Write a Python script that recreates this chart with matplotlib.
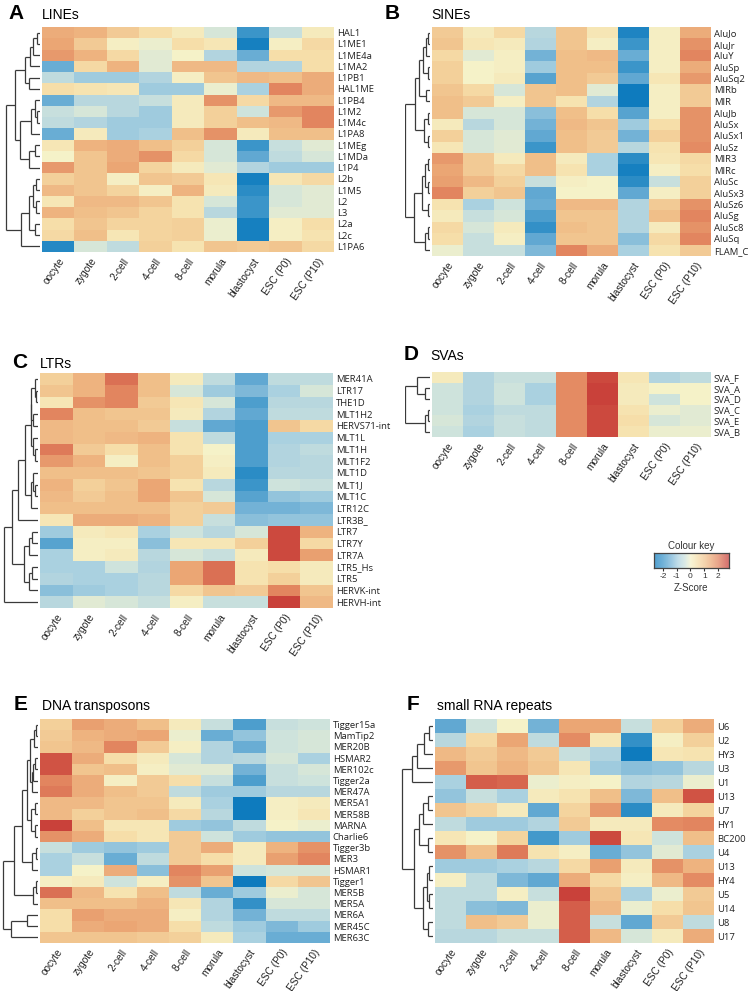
import numpy as np
import matplotlib
matplotlib.use("Agg")
from matplotlib import pyplot as plt
from matplotlib.colors import LinearSegmentedColormap

W, H = 754, 991

stages = ["oocyte", "zygote", "2-cell", "4-cell", "8-cell", "morula",
          "blastocyst", "ESC (P0)", "ESC (P10)"]

# ---- A: LINEs ----
lines_rows = ["HAL1", "L1ME1", "L1ME4a", "L1MA2", "L1PB1", "HAL1ME", "L1PB4", "L1M2",
              "L1M4c", "L1PA8", "L1MEg", "L1MDa", "L1P4", "L2b", "L1M5", "L2", "L3",
              "L2a", "L2c", "L1PA6"]
lines_z = [
    [1.4, 1.3, 0.9, 0.5, 0.2, -0.3, -2.0, -0.5, 0.2],
    [1.5, 0.9, 0.1, -0.1, 0.5, 0.3, -2.5, 0.1, 0.6],
    [1.7, 1.3, 0.6, -0.2, 0.0, -0.8, -1.5, 0.5, 0.5],
    [-1.5, 0.6, 1.3, -0.2, 1.2, 1.2, -0.8, -0.8, 0.5],
    [-0.6, -1.0, -1.0, -0.8, 0.1, 1.0, 1.2, 1.1, 1.4],
    [0.5, 0.4, 0.3, -1.0, -1.0, -0.1, -0.9, 2.0, 1.4],
    [-1.5, -0.7, -0.7, -0.5, 0.2, 1.8, 0.6, 1.2, 1.2],
    [-0.5, -0.3, -0.7, -1.0, 0.2, 0.8, -0.4, 1.7, 2.0],
    [-0.6, -0.8, -1.0, -1.0, 0.2, 0.8, 1.1, 1.2, 2.0],
    [-1.5, 0.2, -1.0, -0.9, 1.1, 1.8, 0.2, 1.1, 1.1],
    [0.3, 1.3, 1.4, 1.1, 0.8, -0.3, -2.0, -0.5, -0.2],
    [0.0, 1.0, 1.4, 1.8, 0.6, -0.3, -1.6, -0.6, -0.3],
    [1.7, 1.0, 1.5, 0.7, 0.2, -0.2, -0.8, -1.0, -1.0],
    [0.8, 1.0, 0.1, 1.0, 0.9, 0.3, -2.5, 0.3, 0.6],
    [1.2, 1.0, 0.7, 0.1, 1.3, 0.2, -2.2, -0.3, -0.2],
    [0.3, 1.2, 1.2, 1.0, 0.4, -0.3, -2.0, -0.3, -0.2],
    [1.3, 1.1, 1.0, 0.7, 0.4, -0.7, -2.0, -0.2, -0.2],
    [0.5, 1.0, 0.7, 0.7, 0.8, -0.1, -2.5, 0.1, 0.5],
    [0.6, 1.1, 0.3, 0.7, 0.8, -0.1, -2.5, 0.1, 0.4],
    [-2.3, -0.3, -0.6, 0.8, 0.4, 1.0, 0.9, 1.0, 0.6],
]
# tree nodes: [height, left, right], leaves are row indices
lines_tree = [1.0,
              [0.73,
               [0.44, [0.29, [0.20, [0.10, 0, 1], 2], 3], [0.31, 4, 5]],
               [0.59, [0.26, [0.15, 6, [0.08, 7, 8]], 9], [0.33, [0.15, 10, 11], 12]]],
              [0.56, [0.33, [0.20, [0.12, 13, 14], [0.12, 15, 16]], [0.14, 17, 18]], 19]]

# ---- B: SINEs ----
sines_rows = ["AluJo", "AluJr", "AluY", "AluSp", "AluSq2", "MIRb", "MIR", "AluJb", "AluSx",
              "AluSx1", "AluSz", "MIR3", "MIRc", "AluSc", "AluSx3", "AluSz6", "AluSg",
              "AluSc8", "AluSq", "FLAM_C"]
sines_z = [
    [0.9, 0.2, 0.6, -0.7, 1.0, 0.3, -2.4, 0.1, 1.4],
    [1.0, 0.3, 0.2, -0.8, 1.0, 0.1, -2.0, 0.1, 1.8],
    [0.6, -0.2, 0.1, -1.4, 1.1, 1.2, -1.5, 0.1, 2.0],
    [0.8, 0.0, 0.1, -1.0, 1.1, 1.1, -2.0, 0.1, 1.4],
    [0.8, 0.0, 0.2, -1.7, 1.1, 0.9, -1.6, 0.3, 1.7],
    [1.0, 0.6, -0.3, 1.0, 1.1, -0.2, -2.6, 0.1, 0.9],
    [1.1, 0.9, 0.1, 1.0, 0.4, -0.8, -2.6, 0.1, 0.9],
    [1.1, -0.3, -0.3, -1.2, 1.1, 0.5, -1.7, 0.1, 1.8],
    [0.2, -0.7, -0.3, -1.4, 1.2, 1.0, -1.0, 0.5, 1.8],
    [0.8, -0.3, -0.2, -1.6, 1.1, 0.9, -1.4, 0.8, 1.8],
    [0.3, -0.3, -0.2, -2.0, 1.1, 0.9, -0.7, 0.4, 1.9],
    [1.7, 0.9, 0.2, 1.1, 0.2, -0.9, -2.2, 0.3, 0.6],
    [1.5, 0.9, 0.6, 1.1, 0.4, -0.9, -2.5, 0.1, 0.5],
    [1.6, 1.2, 0.8, -0.5, 0.1, 0.0, -2.2, -0.5, 0.8],
    [2.0, 0.8, 1.0, -1.6, 0.0, 0.0, -1.6, 0.1, 0.8],
    [0.4, -0.9, -0.4, -1.5, 1.2, 1.2, -0.8, 0.9, 1.8],
    [0.2, -0.5, -0.3, -1.8, 1.0, 1.0, -0.8, 1.1, 2.0],
    [0.6, -0.3, 0.2, -2.1, 1.1, 1.0, -0.8, 0.2, 1.8],
    [0.5, -0.5, 0.1, -1.6, 1.0, 1.0, -1.2, 0.6, 2.0],
    [-0.1, -0.5, -0.5, -1.3, 2.0, 1.4, -0.9, 0.4, 0.9],
]
sines_tree = [1.0,
              [0.60,
               [0.45, [0.28, [0.18, [0.07, 0, 1], 2], [0.10, 3, 4]], [0.15, 5, 6]],
               [0.25, [0.10, 7, 8], [0.10, 9, 10]]],
              [0.67,
               [0.33, [0.19, [0.07, 11, 12], [0.07, 13, 14]], [0.10, 15, 16]],
               [0.22, [0.07, 17, 18], 19]]]

# ---- C: LTRs ----
ltrs_rows = ["MER41A", "LTR17", "THE1D", "MLT1H2", "HERVS71-int", "MLT1L", "MLT1H", "MLT1F2",
             "MLT1D", "MLT1J", "MLT1C", "LTR12C", "LTR3B_", "LTR7", "LTR7Y", "LTR7A",
             "LTR5_Hs", "LTR5", "HERVK-int", "HERVH-int"]
ltrs_z = [
    [0.8, 1.3, 2.2, 1.1, 0.2, -0.6, -1.6, -0.6, -0.6],
    [1.0, 1.3, 2.0, 1.1, -0.3, -1.0, -1.3, -0.9, -0.3],
    [0.3, 1.8, 2.0, 0.9, 0.3, -0.3, -1.8, -0.7, -0.7],
    [2.0, 1.1, 1.0, 1.0, 0.2, -0.8, -1.6, -0.6, -0.6],
    [1.2, 1.1, 1.1, 0.9, -0.5, -1.6, -1.8, 1.0, 0.6],
    [1.2, 1.1, 1.2, 1.3, 0.4, -0.6, -1.8, -0.9, -0.9],
    [2.1, 0.9, 0.5, 1.1, 0.4, 0.0, -1.8, -0.8, -0.6],
    [1.7, 1.3, 0.1, 1.1, 0.8, 0.1, -1.8, -0.8, -0.7],
    [1.1, 1.1, 1.1, 1.0, 0.8, 0.2, -2.2, -0.7, -0.7],
    [1.3, 0.8, 1.0, 1.5, 0.4, -0.7, -2.0, -0.4, -0.5],
    [1.2, 0.9, 1.1, 1.5, 1.0, -0.3, -1.7, -1.1, -1.0],
    [1.1, 1.1, 1.1, 1.1, 0.8, 0.9, -1.4, -1.4, -1.3],
    [0.3, 1.4, 1.4, 1.3, 0.8, -0.5, -1.2, -1.1, -1.1],
    [-1.0, 0.2, 0.3, -0.9, -0.4, -0.7, -0.3, 2.6, 1.3],
    [-1.7, 0.1, 0.1, -1.2, 0.3, 0.3, 0.8, 2.6, 0.6],
    [-0.9, 0.1, 0.2, -0.7, -0.3, -0.5, 0.2, 2.6, 1.6],
    [-0.9, -0.9, -0.4, -0.8, 1.5, 2.2, 0.4, 0.5, 0.2],
    [-0.8, -0.9, -0.9, -0.7, 1.5, 2.2, 0.4, 0.8, 0.2],
    [-1.2, -1.0, -0.9, -0.7, 0.6, 1.0, 0.9, 2.0, 1.0],
    [-0.7, -0.2, -0.3, -0.5, 0.1, -0.5, -0.5, 2.8, 1.2],
]
ltrs_tree = [1.0,
             [0.76,
              [0.58,
               [0.375,
                [0.21, [0.19, [0.10, 0, [0.06, 1, 2]], [0.14, 3, 4]], [0.14, 5, [0.08, 6, 7]]],
                [0.21, [0.14, 8, [0.08, 9, 10]], 11]],
               12],
              [0.40, [0.27, [0.17, 13, 14], 15], [0.27, [0.17, 16, 17], 18]]],
             19]

# ---- D: SVAs ----
svas_rows = ["SVA_F", "SVA_A", "SVA_D", "SVA_C", "SVA_E", "SVA_B"]
svas_z = [
    [0.2, -0.8, -0.5, -0.5, 1.9, 2.6, 0.3, -0.8, -0.6],
    [-0.4, -0.8, -0.4, -0.9, 1.9, 2.7, 0.2, 0.0, 0.0],
    [-0.4, -0.8, -0.4, -0.9, 1.9, 2.7, 0.2, -0.4, 0.0],
    [-0.4, -0.9, -0.6, -0.6, 1.9, 2.6, 0.4, -0.1, -0.2],
    [-0.3, -0.8, -0.5, -0.6, 1.9, 2.6, 0.5, -0.3, -0.2],
    [-0.4, -0.9, -0.5, -0.6, 1.9, 2.6, 0.4, -0.1, -0.1],
]
svas_tree = [1.0, [0.55, 0, [0.2, 1, 2]], [0.22, [0.1, 3, 4], 5]]

# ---- E: DNA transposons ----
dna_rows = ["Tigger15a", "MamTip2", "MER20B", "HSMAR2", "MER102c", "Tigger2a", "MER47A",
            "MER5A1", "MER58B", "MARNA", "Charlie6", "Tigger3b", "MER3", "HSMAR1",
            "Tigger1", "MER5B", "MER5A", "MER6A", "MER45C", "MER63C"]
dna_z = [
    [0.8, 1.6, 1.4, 1.1, 0.2, -0.5, -1.8, -0.5, -0.4],
    [0.9, 1.3, 1.4, 1.5, -0.1, -1.5, -1.1, -0.4, -0.3],
    [1.0, 1.2, 2.0, 0.9, 0.1, -0.8, -1.5, -0.4, -0.3],
    [2.5, 1.4, 0.5, 0.2, -0.3, -0.8, -0.7, -0.3, -0.9],
    [2.5, 1.0, 1.1, 0.1, -0.2, -0.2, -1.4, -0.5, -0.3],
    [2.0, 1.4, 0.1, 0.9, 0.5, -0.5, -1.8, -0.5, -0.4],
    [2.1, 1.4, 1.1, 0.9, -0.6, -1.0, -1.0, -0.7, -0.7],
    [1.2, 1.2, 1.0, 1.0, 0.2, -0.9, -2.6, 0.1, 0.2],
    [1.2, 0.8, 1.0, 1.1, 0.6, -0.7, -2.6, 0.1, 0.3],
    [2.7, 1.1, 0.3, 0.3, -1.0, -1.1, -0.6, 0.0, -0.1],
    [1.8, 1.4, 0.5, 0.3, 0.9, -0.4, -1.0, -1.1, -1.1],
    [-0.5, -1.0, -1.1, -1.0, 0.9, 1.4, 0.2, 1.3, 1.8],
    [-0.9, -0.5, -1.5, -0.6, 0.9, 0.5, 0.2, 1.6, 2.0],
    [-0.9, 0.0, 1.4, -1.2, 2.0, 1.6, -0.4, -0.3, -0.3],
    [0.1, 0.2, -0.4, 0.1, 1.8, 1.0, -2.6, 0.6, 1.0],
    [2.2, 1.2, 0.4, 1.1, -0.6, -1.5, -1.0, -0.1, -0.3],
    [1.1, 1.1, 1.1, 1.3, 0.3, -0.8, -2.1, -0.3, -0.3],
    [0.5, 1.6, 1.4, 1.4, 0.1, -0.8, -1.4, -0.6, -0.6],
    [0.5, 1.4, 1.5, 1.4, 0.5, -0.6, -1.0, -1.3, -1.0],
    [1.0, 1.0, 1.0, 0.9, 0.8, 0.2, -0.9, -1.5, -1.5],
]
dna_tree = [1.0,
            [0.69,
             [0.46,
              [0.31,
               [0.24, [0.10, [0.05, 0, 1], 2], [0.18, [0.13, [0.08, 3, 4], 5], 6]],
               [0.19, [0.08, 7, 8], [0.08, 9, 10]]],
              [0.18, [0.07, 11, 12], 13]],
             [0.15, [0.07, 14, 15], 16]],
            [0.77, [0.31, 17, 18], 19]]

# ---- F: small RNA repeats ----
srna_rows = ["U6", "U2", "HY3", "U3", "U1", "U13", "U7", "HY1", "BC200", "U4", "U13",
             "HY4", "U5", "U14", "U8", "U17"]
srna_z = [
    [-1.6, -0.4, 0.0, -1.4, 1.5, 1.5, -0.5, 0.8, 1.4],
    [-0.7, 0.6, 1.5, -0.6, 1.9, 0.3, -2.1, 0.1, 0.8],
    [1.2, 0.9, 1.2, 0.9, -0.5, -0.8, -2.6, 0.3, 0.4],
    [1.7, 1.0, 1.3, 1.0, 0.3, -1.0, -1.2, -1.1, -0.7],
    [-0.9, 2.4, 2.3, -0.1, 0.1, 0.0, -0.8, -0.7, -0.1],
    [-1.1, -0.5, -0.9, 0.2, 0.4, 1.1, -1.3, 1.1, 2.5],
    [1.0, 0.7, 0.2, -1.6, 0.7, 1.7, -2.2, 0.2, 0.7],
    [-0.6, -1.0, -1.0, -0.8, 0.9, 0.2, 0.2, 1.9, 2.0],
    [0.3, 0.0, 0.7, -1.9, -1.0, 2.6, 0.3, -0.4, 1.1],
    [1.8, 1.1, 2.1, 0.4, 0.1, -1.5, -1.1, -0.2, -0.9],
    [-1.0, -1.0, -0.9, -0.7, 0.6, 1.6, 0.2, 1.8, 1.3],
    [0.1, -0.6, -1.3, -1.6, 1.4, 0.6, 0.1, 1.2, 1.9],
    [-0.6, -0.6, 0.1, -0.5, 2.7, 1.0, -0.9, -0.1, 0.9],
    [-0.6, -1.2, -1.3, -0.1, 2.4, 1.2, -0.1, 0.5, 1.0],
    [-0.6, 1.1, 0.9, -0.1, 2.4, -0.5, -1.6, 0.9, -0.6],
    [-0.7, -0.7, -0.5, -0.5, 2.4, 1.2, -0.3, 0.2, 1.4],
]
srna_tree = [1.0,
             [0.67, [0.5, [0.28, [0.13, 0, 1], 2], 3], 4],
             [0.61,
              [0.44, [0.33, [0.17, 5, 6], 7], [0.17, 8, 9]],
              [0.33, [0.2, [0.13, 10, 11], [0.13, 12, 13]], [0.17, 14, 15]]]]

key_ticks = [-2, -1, 0, 1, 2]

cmap = LinearSegmentedColormap.from_list("zs", [
    (0.00, "#0878bd"), (0.13, "#3b95c9"), (0.24, "#73b2d6"), (0.33, "#a9d0e0"),
    (0.43, "#cfe3dc"), (0.50, "#f5f2c9"), (0.59, "#f6dfaa"), (0.69, "#f1c48e"),
    (0.78, "#eba674"), (0.87, "#e2855f"), (1.00, "#c9413a")])
VMIN, VMAX = -2.7, 2.7

NARROW = ["Liberation Sans Narrow", "Liberation Sans", "DejaVu Sans"]
LABEL = ["Open Sans", "DejaVu Sans"]
PLAIN = ["Liberation Sans", "DejaVu Sans"]

fig = plt.figure(figsize=(W / 100, H / 100), dpi=100)


def px_axes(x0, y0, x1, y1):
    return fig.add_axes([x0 / W, 1 - y1 / H, (x1 - x0) / W, (y1 - y0) / H])


def draw_tree(ax, node):
    if isinstance(node, int):
        return node + 0.5, 0.0
    h, left, right = node
    yl, hl = draw_tree(ax, left)
    yr, hr = draw_tree(ax, right)
    kw = dict(color="#3a3a3a", lw=0.9, solid_capstyle="butt")
    ax.plot([hl, h], [yl, yl], **kw)
    ax.plot([hr, h], [yr, yr], **kw)
    ax.plot([h, h], [yl, yr], **kw)
    return (yl + yr) / 2, h


def panel(box, tree_x0, letter, title, title_pos, rows, z, tree):
    x0, y0, x1, y1 = box
    n = len(rows)
    ax = px_axes(x0, y0, x1, y1)
    ax.pcolormesh(np.arange(len(stages) + 1), np.arange(n + 1), np.array(z),
                  cmap=cmap, vmin=VMIN, vmax=VMAX, shading="flat")
    ax.set_ylim(n, 0)
    ax.set_xlim(0, len(stages))
    ax.yaxis.tick_right()
    ax.set_yticks(np.arange(n) + 0.5)
    ax.set_yticklabels(rows, fontsize=6.8, family=LABEL, color="#222222")
    ax.set_xticks(np.arange(len(stages)) + 0.5)
    ax.set_xticklabels(stages, rotation=55, ha="right", rotation_mode="anchor",
                       fontsize=7.3, family=PLAIN, color="#222222")
    ax.tick_params(length=0, pad=2)
    ax.tick_params(axis="x", pad=3)
    for s in ax.spines.values():
        s.set_visible(False)

    dax = px_axes(tree_x0, y0, x0 - 2, y1)
    draw_tree(dax, tree)
    dax.set_xlim(1.02, 0)
    dax.set_ylim(n, 0)
    dax.axis("off")

    lx, tx, by = title_pos
    fig.text(lx / W, 1 - by / H, letter, fontsize=15, fontweight="bold",
             family=PLAIN, va="baseline")
    fig.text(tx / W, 1 - by / H, title, fontsize=10, family=NARROW, va="baseline")


panel((42, 27, 334, 252), 5, "A", "LINEs", (8, 42, 19), lines_rows, lines_z, lines_tree)
panel((432, 27, 711, 256), 405, "B", "SINEs", (385, 431, 19), sines_rows, sines_z, sines_tree)
panel((40, 373, 333, 608), 3, "C", "LTRs", (12, 40, 368), ltrs_rows, ltrs_z, ltrs_tree)
panel((432, 372, 711, 437), 405, "D", "SVAs", (404, 430, 360), svas_rows, svas_z, svas_tree)
panel((40, 719, 330, 943), 2, "E", "DNA transposons", (14, 42, 710), dna_rows, dna_z, dna_tree)
panel((435, 719, 714, 943), 401, "F", "small RNA repeats", (407, 437, 710), srna_rows, srna_z, srna_tree)

# colour key
kax = px_axes(654, 553, 729, 568)
kmin, kmax = -2.65, 2.8
kax.imshow(np.linspace(kmin, kmax, 256)[None, :], cmap=cmap, vmin=VMIN, vmax=VMAX,
           aspect="auto", extent=[kmin, kmax, 0, 1], alpha=0.72)
kax.set_yticks([])
kax.set_xticks(key_ticks)
kax.set_xticklabels([str(t) for t in key_ticks], fontsize=6, family=PLAIN, color="#333333")
kax.tick_params(axis="x", length=2, width=0.8, pad=1.5, color="#333333")
for s in kax.spines.values():
    s.set_color("#444444")
    s.set_linewidth(0.9)
kax.set_title("Colour key", fontsize=7, family=PLAIN, pad=3, color="#333333")
kax.set_xlabel("Z-Score", fontsize=7, family=PLAIN, labelpad=2, color="#333333")

fig.savefig("out.png", dpi=100)
